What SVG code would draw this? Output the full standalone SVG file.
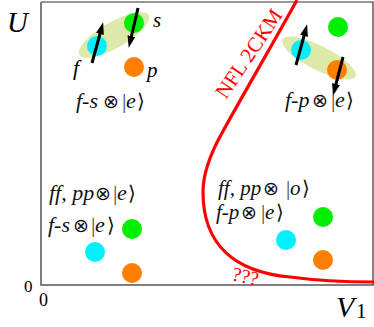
<svg xmlns="http://www.w3.org/2000/svg" width="374" height="327" viewBox="0 0 374 327">
<style>
.t{font-family:"Liberation Serif","DejaVu Serif",serif;fill:#000}
.i{font-style:italic}
.lab{font-family:"Liberation Serif","DejaVu Serif",serif;font-style:italic;font-size:22px;fill:#111}
.sm{font-size:21px}
.sym{font-family:"DejaVu Sans",sans-serif;font-style:normal;font-size:19px}
.br{font-family:"DejaVu Sans",sans-serif;font-style:normal;font-size:20px;font-weight:300}
.bar{font-style:normal;fill:#444}
.red{font-family:"Liberation Serif","DejaVu Serif",serif;fill:#f00}
.cy{fill:#00f0ff}.gr{fill:#00ee00}.or{fill:#ff7f00}
.ell{fill:#dde9a8}
.arr{stroke:#000;stroke-width:3;fill:none;marker-end:url(#ah)}
</style>
<defs>
<marker id="ah" markerUnits="userSpaceOnUse" markerWidth="13" markerHeight="9" refX="2" refY="4" orient="auto">
<path d="M0,0 L12,4 L0,8 z" fill="#000"/>
</marker>
</defs>
<g id="frame">
<path d="M41,2 H373 V285" fill="none" stroke="#333" stroke-width="1.2"/>
<path d="M41,2 V285 H374" fill="none" stroke="#555" stroke-width="1.5"/>
</g>
<g id="axes">
<text class="t i" x="7" y="32" font-size="29">U</text>
<text class="t" x="24" y="292" font-size="17">0</text>
<text class="t" x="39" y="306" font-size="18">0</text>
<text class="t i" x="336" y="317" font-size="30">V</text>
<text class="t" x="356" y="318" font-size="21">1</text>
</g>
<g id="curve">
<path d="M297,0 C275,40 240,100 222,133 C208,158 203,175 203,192 C203,245 235,272 290,277 C320,281 350,282 374,282" fill="none" stroke="#f00" stroke-width="3.2"/>
<text class="red" font-size="21" transform="translate(226,100) rotate(-56)">NFL 2CKM</text>
<text class="red" font-size="20" transform="translate(231,280) rotate(13)">???</text>
</g>
<g id="state-fs">
<ellipse class="ell" cx="114" cy="35" rx="40" ry="13" transform="rotate(-30 114 35)"/>
<circle class="cy" cx="97" cy="46" r="10"/>
<circle class="gr" cx="134" cy="23" r="10"/>
<circle class="or" cx="134" cy="67" r="10"/>
<line class="arr" x1="92" y1="63" x2="100.5" y2="32"/>
<line class="arr" x1="138" y1="8" x2="131" y2="38"/>
<text class="t i" x="153" y="27" font-size="21">s</text>
<text class="t i" x="73" y="75" font-size="22">f</text>
<text class="t i" x="147" y="77" font-size="21">p</text>
<text class="lab" y="108"><tspan x="76">f-s</tspan><tspan class="sym" x="103">⊗</tspan><tspan class="bar" x="122">|</tspan><tspan x="126">e</tspan><tspan class="br" x="137">⟩</tspan></text>
</g>
<g id="state-fp">
<ellipse class="ell" cx="319" cy="58" rx="41" ry="12" transform="rotate(27 319 58)"/>
<circle class="gr" cx="338" cy="27" r="10"/>
<circle class="cy" cx="301" cy="50" r="10"/>
<circle class="or" cx="337" cy="70" r="10"/>
<line class="arr" x1="296" y1="65" x2="304.5" y2="34"/>
<line class="arr" x1="343" y1="57" x2="335.5" y2="86"/>
<text class="lab" y="107"><tspan x="285">f-p</tspan><tspan class="sym" x="312">⊗</tspan><tspan class="bar" x="331">|</tspan><tspan x="335">e</tspan><tspan class="br" x="346">⟩</tspan></text>
</g>
<g id="state-bl">
<text class="lab" y="200"><tspan x="49">ff, pp</tspan><tspan class="sym" x="95">⊗</tspan><tspan class="bar" x="113">|</tspan><tspan x="117">e</tspan><tspan class="br" x="128">⟩</tspan></text>
<text class="lab" y="232"><tspan x="48">f-s</tspan><tspan class="sym" x="73">⊗</tspan><tspan class="bar" x="91">|</tspan><tspan x="95">e</tspan><tspan class="br" x="107">⟩</tspan></text>
<circle class="gr" cx="132" cy="229" r="10"/>
<circle class="cy" cx="95" cy="252" r="10"/>
<circle class="or" cx="132" cy="273" r="10"/>
</g>
<g id="state-br">
<text class="lab sm" y="195"><tspan x="218">ff, pp</tspan><tspan class="sym" x="263">⊗</tspan><tspan class="bar" x="286">|</tspan><tspan x="290">o</tspan><tspan class="br" x="302">⟩</tspan></text>
<text class="lab sm" y="219"><tspan x="216">f-p</tspan><tspan class="sym" x="241">⊗</tspan><tspan class="bar" x="261">|</tspan><tspan x="265">e</tspan><tspan class="br" x="276">⟩</tspan></text>
<circle class="gr" cx="323" cy="217" r="10"/>
<circle class="cy" cx="286" cy="240" r="10"/>
<circle class="or" cx="323" cy="260" r="10"/>
</g>
</svg>
